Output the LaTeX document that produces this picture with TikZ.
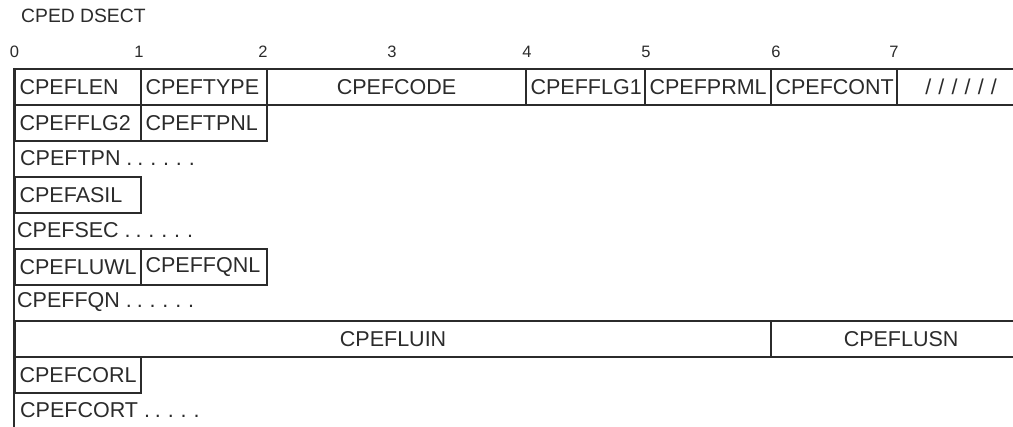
\documentclass[tikz,border=0pt]{standalone}
\usepackage{fontspec}
\setmainfont{Liberation Sans}
\definecolor{ink}{HTML}{2B2B2B}
\tikzset{
  cell/.style={draw=ink, line width=2.2pt, anchor=north west, minimum height=36pt,
    inner xsep=4.5pt, inner ysep=0pt, text width=#1, align=left, text=ink,
    font=\fontsize{21.5}{24}\selectfont},
  cellc/.style={cell=#1, align=center},
  row/.style={anchor=west, inner xsep=0pt, text=ink, font=\fontsize{21.5}{24}\selectfont},
  ruler/.style={text=ink, inner sep=0pt, font=\fontsize{16.5}{19}\selectfont},
  edge/.style={draw=ink, line width=2.2pt},
}
\newcommand\dotrun[1]{{\spaceskip=4.9pt plus 0pt minus 0pt #1}}
\begin{document}
\begin{tikzpicture}[x=1pt,y=-1pt]
\useasboundingbox (0,0) rectangle (1013,427);
\node[anchor=west, inner sep=0pt, text=ink, font=\fontsize{19.3}{22}\selectfont] (title) at (21,16) {CPED DSECT};
% ruler
\node[ruler] (r0) at (14.5,52) {0};
\node[ruler] (r1) at (139,52) {1};
\node[ruler] (r2) at (263,52) {2};
\node[ruler] (r3) at (392,52) {3};
\node[ruler] (r4) at (527,52) {4};
\node[ruler] (r5) at (646,52) {5};
\node[ruler] (r6) at (776,52) {6};
\node[ruler] (r7) at (894,52) {7};
% row 1
\node[cell=117pt] (len) at (14,68) {CPEFLEN};
\node[cell=117pt] (type) at (140,68) {CPEFTYPE};
\node[cellc=250pt] (code) at (266,68) {CPEFCODE};
\node[cell=110pt] (flg1) at (525,68) {CPEFFLG1};
\node[cell=117pt] (prml) at (644,68) {CPEFPRML};
\node[cell=117pt] (cont) at (770,68) {CPEFCONT};
\node[cellc=119pt] (fill) at (896,68) {/ / / / / /};
% row 2
\node[cell=117pt] (flg2) at (14,104) {CPEFFLG2};
\node[cell=117pt] (tpnl) at (140,104) {CPEFTPNL};
% row 3
\node[row] (tpn) at (20,158) {CPEFTPN \dotrun{. . . . . .}};
% row 4
\node[cell=117pt] (asil) at (14,176) {CPEFASIL};
% row 5
\node[row] (sec) at (17,230) {CPEFSEC \dotrun{. . . . . .}};
% row 6
\node[cell=117pt] (luwl) at (14,248) {CPEFLUWL};
\node[cell=117pt] (fqnl) at (140,248) {CPEFFQNL};
% row 7
\node[row] (fqn) at (17,302) {CPEFFQN \dotrun{. . . . . .}};
% row 8
\node[cellc=747pt] (luin) at (14,320) {CPEFLUIN};
\node[cellc=251pt] (lusn) at (770,320) {CPEFLUSN};
% row 9
\node[cell=117pt] (corl) at (14,356) {CPEFCORL};
% row 10
\node[row] (cort) at (20,410) {CPEFCORT \dotrun{. . . . .}};
% left edge
\coordinate (bottom) at (14,440);
\draw[edge] (len.north west) -- (bottom);
\end{tikzpicture}
\end{document}
